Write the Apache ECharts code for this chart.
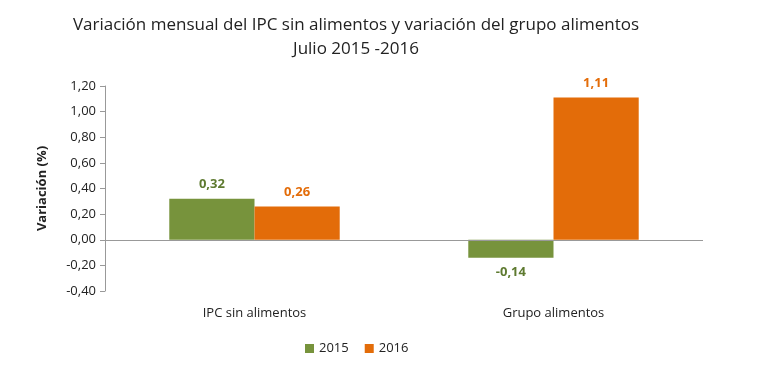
<!DOCTYPE html>
<html><head><meta charset="utf-8">
<script src="https://cdn.jsdelivr.net/npm/echarts@6/dist/echarts.min.js"></script>
<style>html,body{margin:0;padding:0;background:#fff}#c{width:760px;height:386px}</style>
</head><body><div id="c"></div>
<script>
const categories = ['IPC sin alimentos', 'Grupo alimentos'];
const seriesNames = ['2015', '2016'];
const values2015 = [0.32, -0.14];
const values2016 = [0.26, 1.11];
const yTicks = [-0.4, -0.2, 0, 0.2, 0.4, 0.6, 0.8, 1.0, 1.2];

const FONT = '"Open Sans", sans-serif';
const fmt = v => v.toFixed(2).replace('.', ',');
const chart = echarts.init(document.getElementById('c'));
chart.setOption({
  animation: false,
  textStyle: { fontFamily: FONT },
  title: {
    text: 'Variación mensual del IPC sin alimentos y variación del grupo alimentos\nJulio 2015 -2016',
    left: 351, top: 8, textAlign: 'center',
    textStyle: { fontSize: 17, fontWeight: 'normal', color: '#222', lineHeight: 24, fontFamily: FONT }
  },
  legend: {
    data: seriesNames, bottom: 26, left: 300, itemWidth: 9, itemHeight: 9, itemGap: 16,
    textStyle: { fontSize: 13, color: '#222', fontFamily: FONT }, icon: 'rect'
  },
  grid: { left: 105, right: 57, top: 86, bottom: 95, containLabel: false },
  xAxis: {
    type: 'category', data: categories,
    axisLine: { show: false }, axisTick: { show: false },
    axisLabel: { fontSize: 13, color: '#222', margin: 16, fontFamily: FONT }
  },
  yAxis: {
    type: 'value', min: -0.4, max: 1.2, interval: 0.2,
    name: 'Variación (%)', nameLocation: 'middle', nameGap: 56, nameRotate: 90,
    nameTextStyle: { fontSize: 13, fontWeight: 'bold', color: '#222', fontFamily: FONT },
    axisLine: { show: true, lineStyle: { color: '#999' } },
    axisTick: { show: true, length: 5, lineStyle: { color: '#999' } },
    splitLine: { show: false },
    axisLabel: { fontSize: 13, color: '#222', margin: 9, formatter: v => fmt(v), fontFamily: FONT }
  },
  series: [
    {
      name: seriesNames[0], type: 'bar', data: values2015, barGap: '0%', barCategoryGap: '43%',
      itemStyle: { color: '#77933C' },
      label: { show: true, position: 'outside', formatter: p => fmt(p.value), fontSize: 13, fontWeight: 'bold', color: '#5E7A30', distance: 8, fontFamily: FONT },
      markLine: {
        silent: true, symbol: 'none', label: { show: false },
        lineStyle: { color: '#999', type: 'solid', width: 1 },
        data: [{ yAxis: 0 }]
      }
    },
    {
      name: seriesNames[1], type: 'bar', data: values2016, barGap: '0%', barCategoryGap: '43%',
      itemStyle: { color: '#E36C09' },
      label: { show: true, position: 'top', formatter: p => fmt(p.value), fontSize: 13, fontWeight: 'bold', color: '#E36C09', distance: 8, fontFamily: FONT }
    }
  ]
});
</script></body></html>
